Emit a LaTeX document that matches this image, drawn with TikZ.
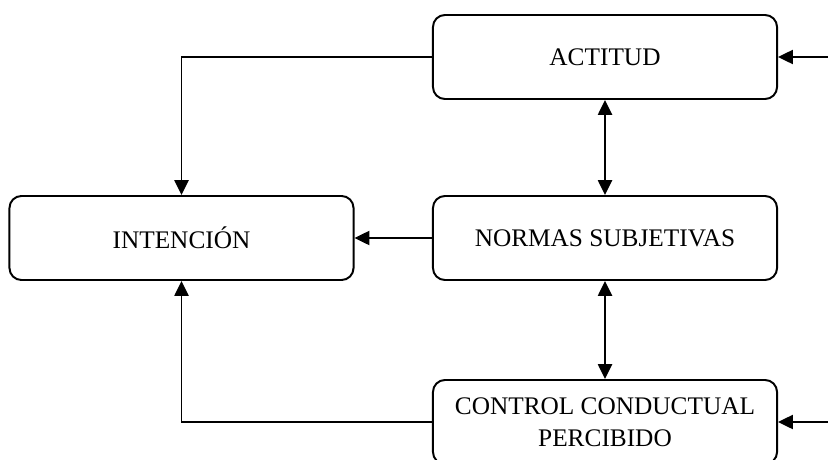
\documentclass[tikz,border=0pt]{standalone}
\usepackage{fontspec}
\setmainfont{Liberation Serif}
\usetikzlibrary{arrows.meta}

\begin{document}
\begin{tikzpicture}[x=0.025cm,y=-0.025cm,line width=1.4pt,
  caja/.style={draw,rounded corners=0.3cm,minimum width=8.6cm,minimum height=2.1cm,
    align=center,font=\fontsize{18}{23}\selectfont},
  flecha/.style={-{Triangle[length=3.7mm,width=3.5mm]}},
  doble/.style={{Triangle[length=3.7mm,width=3.5mm]}-{Triangle[length=3.7mm,width=3.5mm]}}]

% Page size, the bottom box is cut
\clip (0,0) rectangle (828,460);

% Define coordinates
\coordinate (inA) at (828,57);
\coordinate (inC) at (828,422);

% Boxes
\node[caja] (acti)    at (605,57)    {ACTITUD};
\node[caja] (inten)   at (181.5,238) {INTENCIÓN};
\node[caja] (normas)  at (605,238)   {NORMAS SUBJETIVAS};
\node[caja] (control) at (605,422)   {CONTROL CONDUCTUAL\\PERCIBIDO};

% Arrows coming from outside
\draw[flecha] (inA) -- (acti.east);
\draw[flecha] (inC) -- (control.east);

% Arrows to INTENCION
\draw[flecha] (acti.west) -| (inten.north);
\draw[flecha] (normas.west) -- (inten.east);
\draw[flecha] (control.west) -| (inten.south);

% Two-way arrows
\draw[doble] (acti.south) -- (normas.north);
\draw[doble] (normas.south) -- (control.north);

\end{tikzpicture}
\end{document}
